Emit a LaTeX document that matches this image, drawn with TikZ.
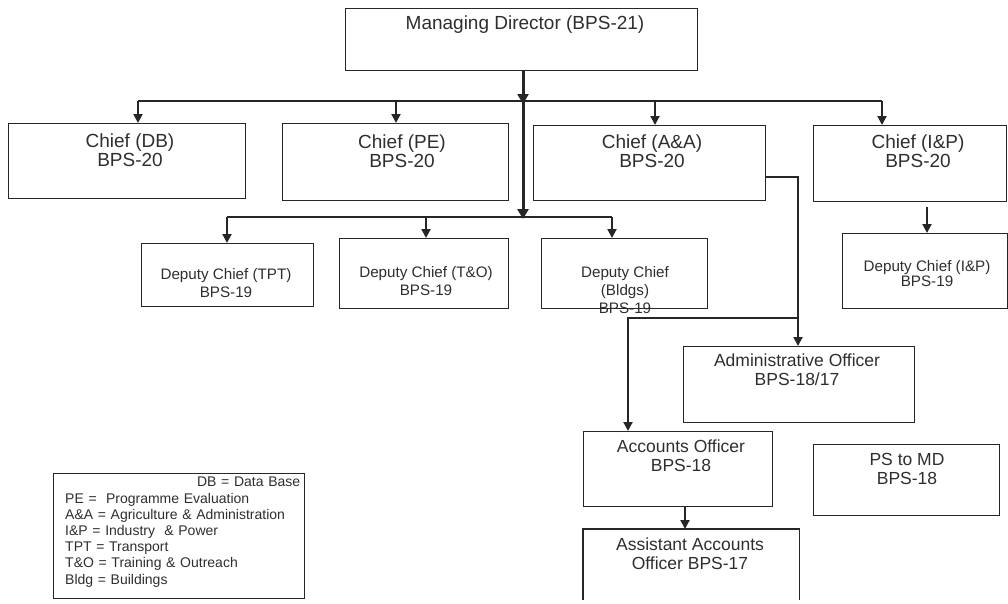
\documentclass[tikz,border=0pt]{standalone}
\usepackage{fontspec}
\setmainfont{Liberation Sans}
\usetikzlibrary{arrows.meta}
\definecolor{inkline}{HTML}{262626}
\definecolor{inktext}{HTML}{2E2E2E}
\begin{document}
\begin{tikzpicture}[x=1pt,y=-1pt,
  box/.style={draw=inkline, line width=1.3pt, rectangle, inner sep=0pt, anchor=north west},
  openbox/.style={rectangle, inner sep=0pt, anchor=north west},
  txt/.style={text=inktext, align=center, inner sep=0pt},
  conn/.style={draw=inkline, line width=2pt},
  trunk/.style={draw=inkline, line width=3pt},
  arr/.style={-{Triangle[length=9pt 0,width=9pt 0]}},
  bigarr/.style={-{Triangle[length=10pt 0,width=11pt 0]}},
  fmd/.style={font=\fontsize{19}{19}\selectfont},
  fchief/.style={font=\fontsize{19}{18.5}\selectfont},
  fdep/.style={font=\fontsize{15.2}{17.6}\selectfont},
  fstaff/.style={font=\fontsize{17.5}{19}\selectfont},
  fkey/.style={font=\fontsize{14}{16.2}\selectfont}]
\useasboundingbox (0,0) rectangle (1008,603);

% Managing director
\node[box, minimum width=352pt, minimum height=62pt] (md) at (345,8) {};
\node[txt, fmd] (mdt) at (525,25) {Managing Director (BPS-21)};

% Chiefs
\node[box, minimum width=237pt, minimum height=75pt] (db) at (8,123) {};
\node[box, minimum width=226pt, minimum height=77pt] (pe) at (282,123) {};
\node[box, minimum width=232pt, minimum height=75pt] (aa) at (533,125) {};
\node[box, minimum width=193pt, minimum height=76pt] (ip) at (813,125) {};
\node[txt, fchief] (dbt) at (130,150) {Chief (DB)\\BPS-20};
\node[txt, fchief] (pet) at (402,151) {Chief (PE)\\BPS-20};
\node[txt, fchief] (aat) at (652,151) {Chief (A\&A)\\BPS-20};
\node[txt, fchief] (ipt) at (918,151) {Chief (I\&P)\\BPS-20};

% Deputy chiefs
\node[box, minimum width=172pt, minimum height=63pt] (tpt) at (141,243) {};
\node[box, minimum width=169pt, minimum height=70pt] (tno) at (339,238) {};
\node[box, minimum width=166pt, minimum height=70pt] (bld) at (541,238) {};
\node[box, minimum width=165pt, minimum height=75pt] (dip) at (842,233) {};
\node[txt, fdep] (tptt) at (226,283) {Deputy Chief (TPT)\\BPS-19};
\node[txt, fdep] (tnot) at (426,281) {Deputy Chief (T\&O)\\BPS-19};
\node[txt, fdep] (bldt) at (625,290) {Deputy Chief\\(Bldgs)\\BPS-19};
\node[txt, fdep, font=\fontsize{15.2}{15}\selectfont] (dipt) at (927,274) {Deputy Chief (I\&P)\\BPS-19};

% Staff officers
\node[box, minimum width=231pt, minimum height=76pt] (ao) at (683,346) {};
\node[txt, fstaff] (aot) at (797,370) {Administrative Officer\\BPS-18/17};
\node[box, minimum width=189pt, minimum height=75pt] (acc) at (583,431) {};
\node[txt, fstaff] (acct) at (681,456) {Accounts Officer\\BPS-18};
\node[openbox, minimum width=216pt, minimum height=71pt] (asst) at (583,529) {};
\draw[draw=inkline, line width=1.3pt] (asst.south west) -- (asst.north west) -- (asst.north east) -- (asst.south east);
\node[txt, fstaff] (asstt) at (690,554) {Assistant Accounts\\Officer BPS-17};
\node[box, minimum width=186pt, minimum height=71pt] (ps) at (813,444) {};
\node[txt, fstaff] (pst) at (907,469) {PS to MD\\BPS-18};

% Abbreviations
\node[box, minimum width=251pt, minimum height=125pt] (key) at (53,473) {};
\node[txt, fkey, align=left, anchor=north west, text width=235pt] (keyt) at (65,477)
  {\hfill DB = Data Base\\
   PE = \ Programme Evaluation\\
   A\&A = Agriculture \& Administration\\
   I\&P = Industry \ \& Power\\
   TPT = Transport\\
   T\&O = Training \& Outreach\\
   Bldg = Buildings};

% Junction points of the connector bars
\coordinate (cbar) at (523,101);
\coordinate (cbL) at (138,101);
\coordinate (cbPE) at (396,101);
\coordinate (cbAA) at (655,101);
\coordinate (cbR) at (882,101);
\coordinate (dbar) at (523,217);
\coordinate (dbL) at (227,217);
\coordinate (dbTO) at (426,217);
\coordinate (dbR) at (612,217);
\coordinate (aaout) at (765,177);
\coordinate (aacor) at (798,177);
\coordinate (aasplit) at (798,318);
\coordinate (acccor) at (628,318);

% Trunk from the managing director
\draw[trunk] (md.south -| cbar) -- (dbar);
\draw[trunk, bigarr] (md.south -| cbar) -- ([yshift=-3pt]cbar);
\draw[trunk, bigarr] (cbar) -- ([yshift=-2pt]dbar);

% Chief bar and drops
\draw[conn] (cbL) -- (cbR);
\draw[conn, arr] (cbL) -- (cbL |- db.north);
\draw[conn, arr] (cbPE) -- (cbPE |- pe.north);
\draw[conn, arr] (cbAA) -- (cbAA |- aa.north);
\draw[conn, arr] (cbR) -- (cbR |- ip.north);

% Deputy bar and drops
\draw[conn] (dbL) -- (dbR);
\draw[conn, arr] (dbL) -- (dbL |- tpt.north);
\draw[conn, arr] (dbTO) -- (dbTO |- tno.north);
\draw[conn, arr] (dbR) -- (dbR |- bld.north);

% I&P deputy
\draw[conn, arr, shorten <=5pt] (ip.south -| dipt) -- (dip.north -| dipt);

% A&A branch to the officers
\draw[conn, arr] (aaout) -- (aacor) -- (aacor |- ao.north);
\draw[conn, arr] (aasplit) -- (acccor) -- (acccor |- acc.north);

% Accounts officer to assistant
\draw[conn, arr] (acc.south -| 685,0) -- (asst.north -| 685,0);
\end{tikzpicture}
\end{document}
